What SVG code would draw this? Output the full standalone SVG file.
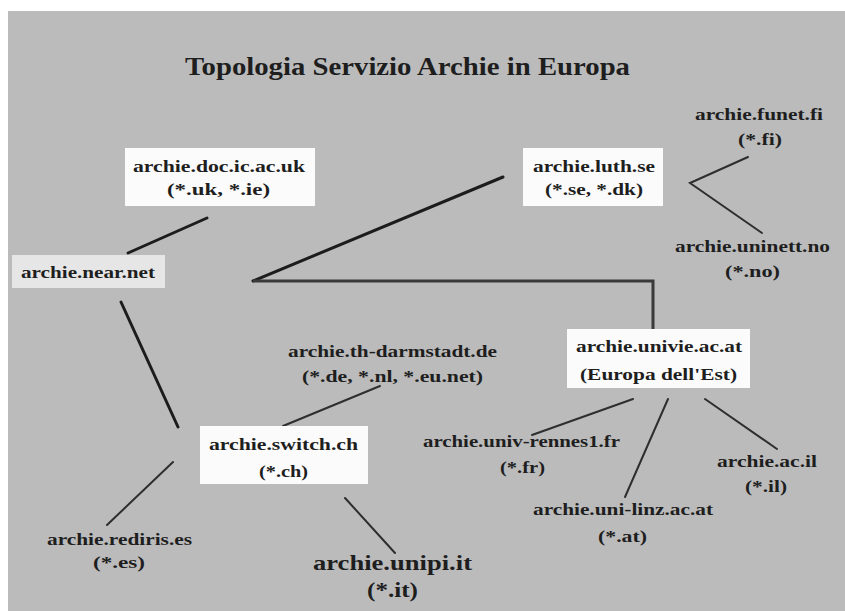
<svg xmlns="http://www.w3.org/2000/svg" width="845" height="611" viewBox="0 0 845 611">
<style>
text{font-family:"Liberation Serif","Times New Roman",serif;font-weight:bold;fill:#1e1e1e;font-size:16px;text-anchor:start}
.big{font-size:21px}
.title{font-size:26px}
.box{fill:#fbfbfb}
.grey{fill:#e6e6e6}
.thick{stroke:#1c1c1c;stroke-width:3;fill:none;stroke-linecap:round}
.thin{stroke:#2e2e2e;stroke-width:2;fill:none;stroke-linecap:round}
.mid{stroke:#3a3a3a;stroke-width:3;fill:none;stroke-linejoin:miter}
</style>
<rect x="0" y="0" width="845" height="611" fill="#ffffff"/>
<rect x="8" y="11" width="837" height="600" fill="#bbbbbb"/>
<text class="title" x="185" y="75" textLength="445" lengthAdjust="spacingAndGlyphs">Topologia Servizio Archie in Europa</text>
<g id="connectors">
<line class="thick" x1="207" y1="218" x2="128" y2="253"/>
<line class="thick" x1="121" y1="302" x2="178" y2="427"/>
<line class="thick" x1="503" y1="177" x2="253" y2="281"/>
<polyline class="mid" points="253,281 653,281 653,329"/>
<polyline class="thin" points="748,157 690,183 762,233"/>
<line class="thin" x1="380" y1="386" x2="283" y2="426"/>
<line class="thin" x1="345" y1="498" x2="395" y2="553"/>
<line class="thin" x1="173" y1="462" x2="107" y2="525"/>
<line class="thin" x1="633" y1="399" x2="532" y2="435"/>
<line class="thin" x1="668" y1="399" x2="625" y2="497"/>
<line class="thin" x1="705" y1="399" x2="777" y2="449"/>
</g>
<g id="doc">
<rect class="box" x="125" y="148" width="190" height="58"/>
<text x="133" y="172" textLength="172" lengthAdjust="spacingAndGlyphs">archie.doc.ic.ac.uk</text>
<text x="167" y="195" textLength="103" lengthAdjust="spacingAndGlyphs">(*.uk, *.ie)</text>
</g>
<g id="near">
<rect class="grey" x="12" y="255" width="153" height="33"/>
<text x="21" y="278" textLength="134" lengthAdjust="spacingAndGlyphs">archie.near.net</text>
</g>
<g id="luth">
<rect class="box" x="523" y="148" width="140" height="58"/>
<text x="533" y="172" textLength="122" lengthAdjust="spacingAndGlyphs">archie.luth.se</text>
<text x="545" y="195" textLength="98" lengthAdjust="spacingAndGlyphs">(*.se, *.dk)</text>
</g>
<g id="funet">
<text x="695" y="120" textLength="128" lengthAdjust="spacingAndGlyphs">archie.funet.fi</text>
<text x="738" y="145" textLength="44" lengthAdjust="spacingAndGlyphs">(*.fi)</text>
</g>
<g id="uninett">
<text x="675" y="252" textLength="155" lengthAdjust="spacingAndGlyphs">archie.uninett.no</text>
<text x="725" y="277" textLength="55" lengthAdjust="spacingAndGlyphs">(*.no)</text>
</g>
<g id="univie">
<rect class="box" x="567" y="329" width="183" height="59"/>
<text x="576" y="352" textLength="166" lengthAdjust="spacingAndGlyphs">archie.univie.ac.at</text>
<text x="580" y="380" textLength="157" lengthAdjust="spacingAndGlyphs">(Europa dell'Est)</text>
</g>
<g id="darmstadt">
<text x="288" y="357" textLength="209" lengthAdjust="spacingAndGlyphs">archie.th-darmstadt.de</text>
<text x="302" y="382" textLength="181" lengthAdjust="spacingAndGlyphs">(*.de, *.nl, *.eu.net)</text>
</g>
<g id="switch">
<rect class="box" x="200" y="426" width="168" height="58"/>
<text x="209" y="450" textLength="149" lengthAdjust="spacingAndGlyphs">archie.switch.ch</text>
<text x="259" y="477" textLength="49" lengthAdjust="spacingAndGlyphs">(*.ch)</text>
</g>
<g id="rediris">
<text x="47" y="545" textLength="145" lengthAdjust="spacingAndGlyphs">archie.rediris.es</text>
<text x="93" y="568" textLength="52" lengthAdjust="spacingAndGlyphs">(*.es)</text>
</g>
<g id="unipi">
<text class="big" x="313" y="570" textLength="159" lengthAdjust="spacingAndGlyphs">archie.unipi.it</text>
<text class="big" x="367" y="597" textLength="51" lengthAdjust="spacingAndGlyphs">(*.it)</text>
</g>
<g id="rennes">
<text x="423" y="447" textLength="197" lengthAdjust="spacingAndGlyphs">archie.univ-rennes1.fr</text>
<text x="500" y="473" textLength="45" lengthAdjust="spacingAndGlyphs">(*.fr)</text>
</g>
<g id="linz">
<text x="533" y="515" textLength="180" lengthAdjust="spacingAndGlyphs">archie.uni-linz.ac.at</text>
<text x="598" y="542" textLength="49" lengthAdjust="spacingAndGlyphs">(*.at)</text>
</g>
<g id="acil">
<text x="717" y="467" textLength="100" lengthAdjust="spacingAndGlyphs">archie.ac.il</text>
<text x="745" y="492" textLength="42" lengthAdjust="spacingAndGlyphs">(*.il)</text>
</g>
</svg>
